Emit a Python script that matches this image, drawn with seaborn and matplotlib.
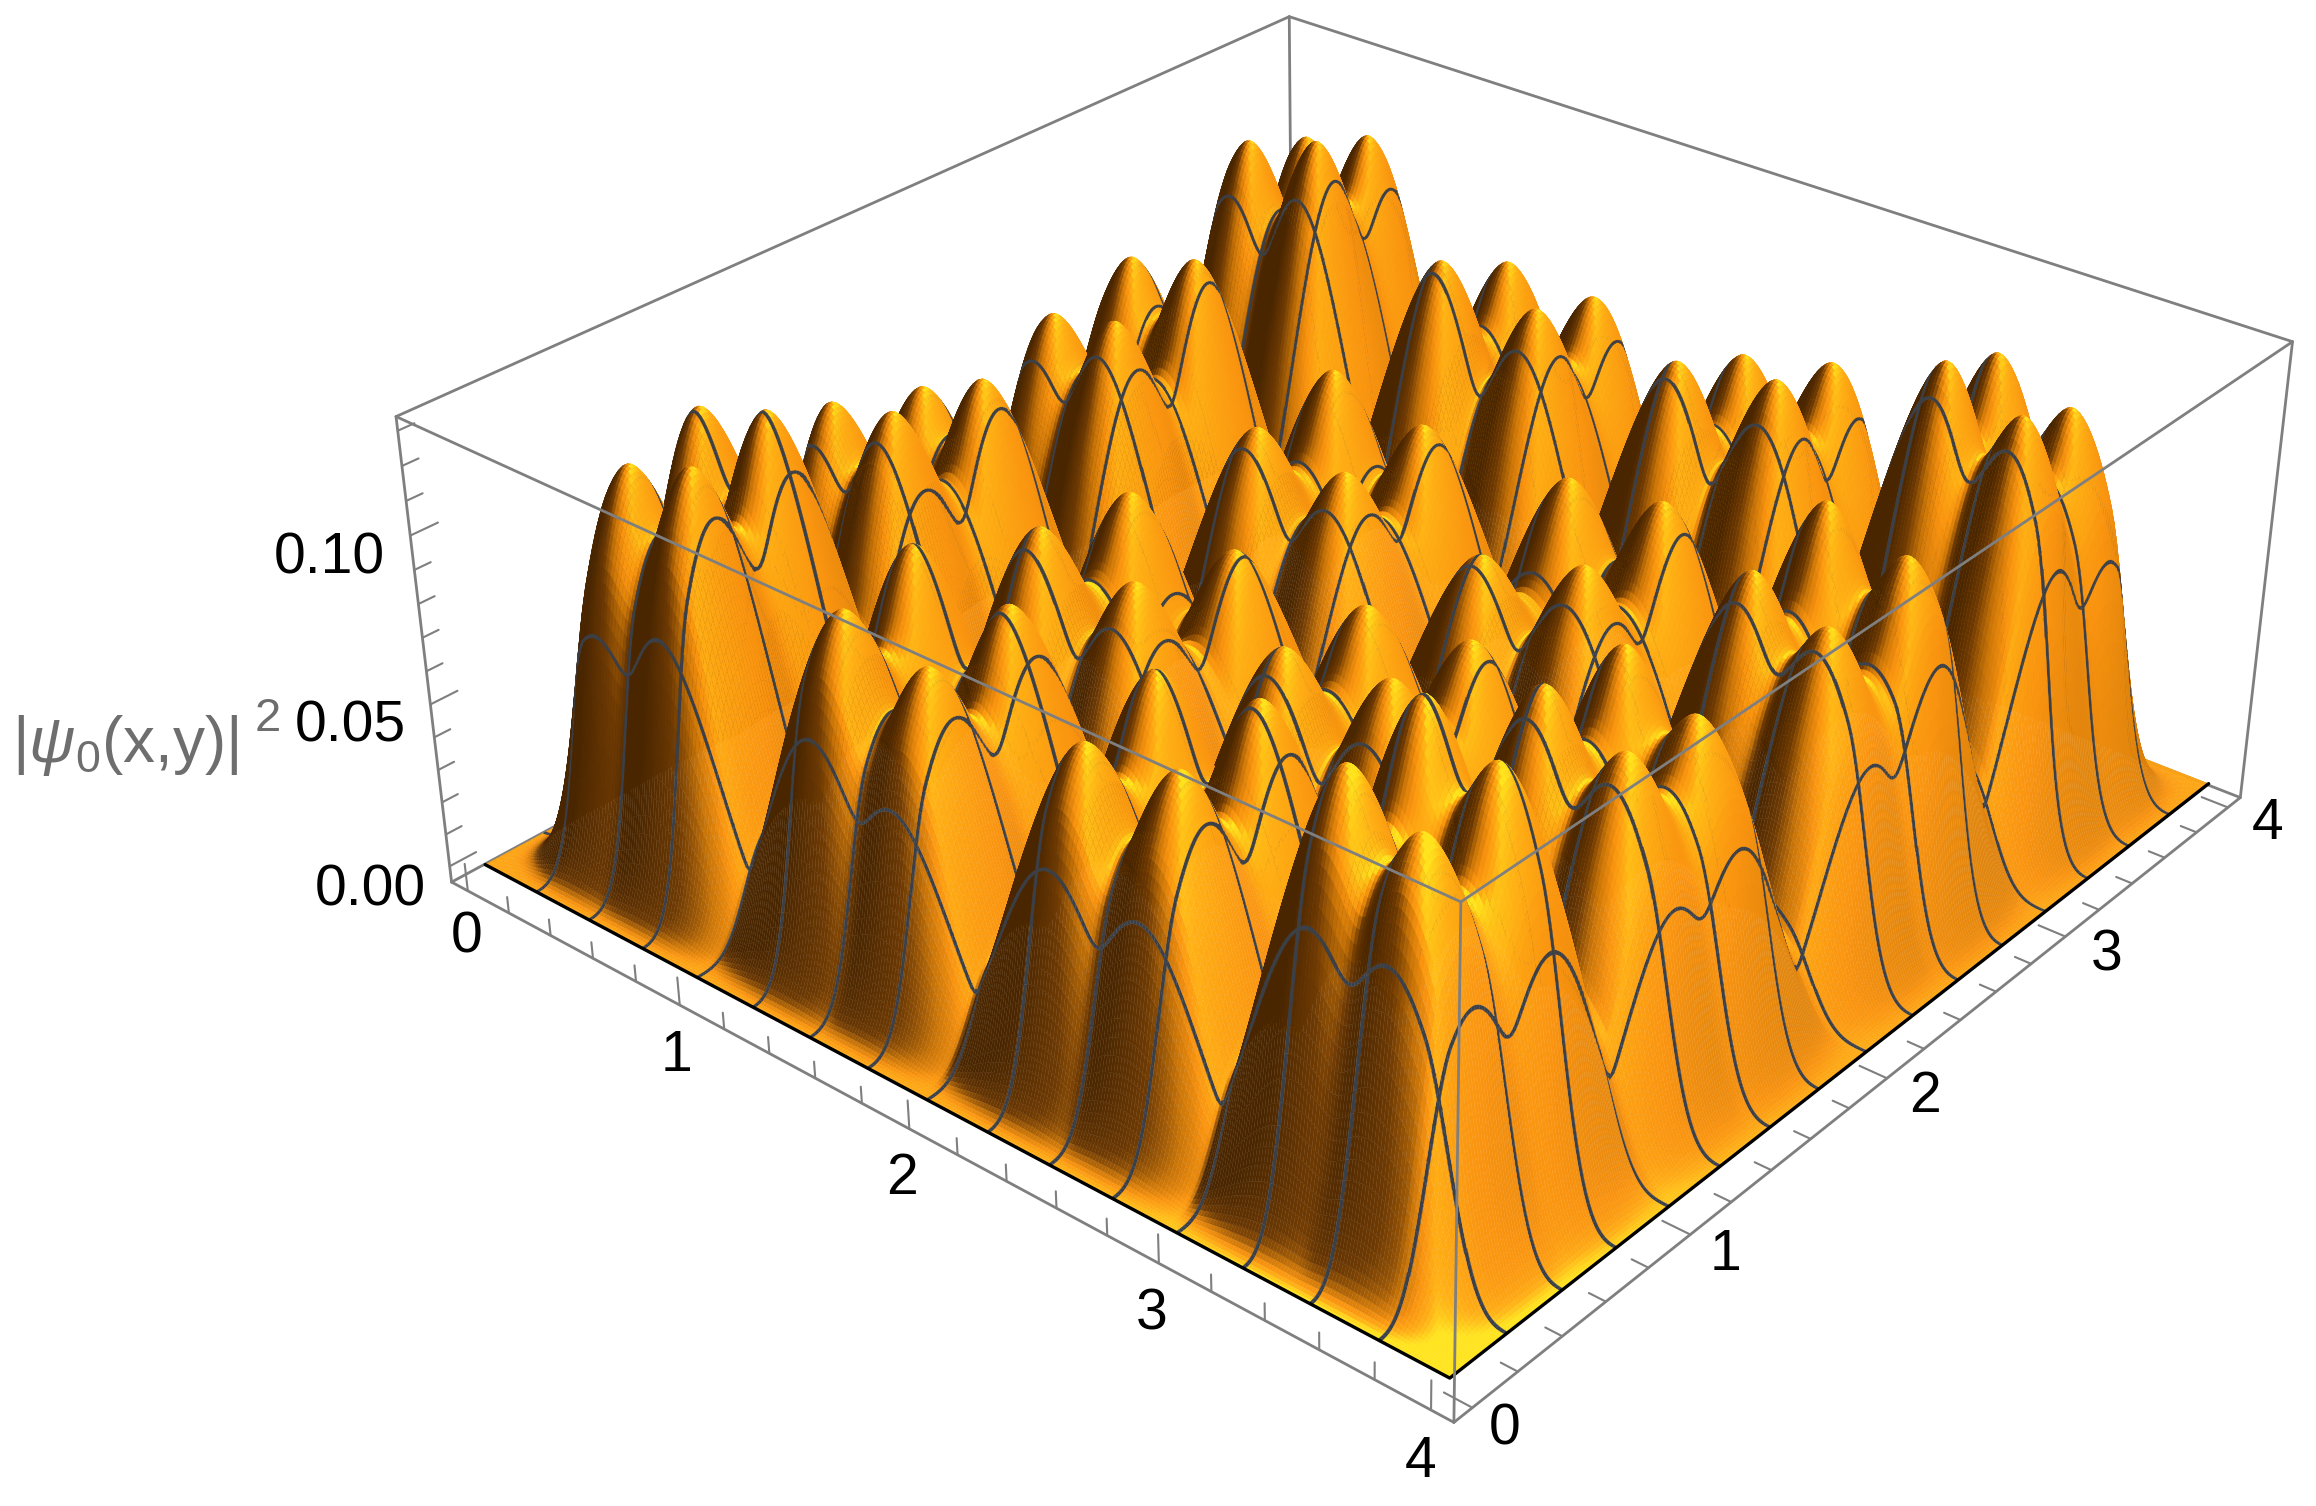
import numpy as np
import matplotlib
matplotlib.use('Agg')
import matplotlib.pyplot as plt
import seaborn as sns

# peak centres and heights, one row per x position
peak_x = [
    [0.36, 0.33, 0.32, 0.38, 0.35, 0.39, 0.36, 0.35],
    [0.66, 0.65, 0.62, 0.68, 0.65, 0.69, 0.67, 0.65],
    [1.32, 1.29, 1.27, 1.33, 1.30, 1.33, 1.28, 1.30],
    [1.65, 1.65, 1.63, 1.72, 1.65, 1.69, 1.65, 1.65],
    [2.30, 2.28, 2.27, 2.31, 2.26, 2.32, 2.27, 2.30],
    [2.65, 2.65, 2.65, 2.69, 2.63, 2.67, 2.64, 2.64],
    [3.29, 3.28, 3.26, 3.30, 3.28, 3.31, 3.29, 3.28],
    [3.57, 3.56, 3.56, 3.58, 3.57, 3.61, 3.58, 3.57],
]
peak_y = [
    [0.44, 0.77, 1.34, 1.69, 2.35, 2.70, 3.35, 3.67],
    [0.43, 0.76, 1.32, 1.67, 2.33, 2.69, 3.35, 3.65],
    [0.41, 0.74, 1.31, 1.66, 2.31, 2.66, 3.29, 3.63],
    [0.43, 0.78, 1.35, 1.72, 2.34, 2.69, 3.34, 3.66],
    [0.41, 0.74, 1.32, 1.66, 2.29, 2.66, 3.30, 3.64],
    [0.43, 0.78, 1.37, 1.70, 2.34, 2.69, 3.34, 3.66],
    [0.41, 0.75, 1.32, 1.65, 2.32, 2.66, 3.32, 3.64],
    [0.39, 0.73, 1.32, 1.63, 2.31, 2.66, 3.32, 3.63],
]
peak_heights = [
    [0.1155, 0.1205, 0.1030, 0.0980, 0.0990, 0.1070, 0.1240, 0.1160],
    [0.1235, 0.1285, 0.1090, 0.1090, 0.1050, 0.1140, 0.1310, 0.1240],
    [0.1030, 0.1090, 0.0935, 0.0935, 0.0905, 0.0975, 0.1105, 0.1005],
    [0.0960, 0.1010, 0.0865, 0.0855, 0.0855, 0.0895, 0.1035, 0.0975],
    [0.0965, 0.1035, 0.0880, 0.0890, 0.0800, 0.0920, 0.1050, 0.0970],
    [0.0995, 0.1055, 0.0890, 0.0890, 0.0860, 0.0940, 0.1080, 0.1030],
    [0.1230, 0.1280, 0.1085, 0.1085, 0.1045, 0.1135, 0.1315, 0.1235],
    [0.1150, 0.1200, 0.0995, 0.0985, 0.0975, 0.1065, 0.1235, 0.1155],
]
peak_radius = 0.55

mesh_lines = [0.25 * i for i in range(1, 16)]
xy_ticks = [0.2 * i for i in range(21)]
xy_labels = ['0', '1', '2', '3', '4']
z_ticks = [0.01 * i for i in range(14)]
z_labels = ['0.00', '0.05', '0.10']

sns.set_theme(style='white')
plt.rcParams['font.family'] = ['Liberation Sans', 'DejaVu Sans']
plt.rcParams['mathtext.fontset'] = 'custom'
plt.rcParams['mathtext.rm'] = 'Liberation Sans'
plt.rcParams['mathtext.it'] = 'Liberation Sans:italic'

W, H = 2316, 1506
fig = plt.figure(figsize=(W / 100, H / 100), dpi=100)
ax = fig.add_axes([356 / W, -113 / H, 1954 / W, 1954 / H], projection='3d', computed_zorder=False)
ax.patch.set_alpha(0)
ax.set_axis_off()

x0, x1 = -0.08, 4.08
z0, z1 = -0.005, 0.134
ax.set_xlim(x0, x1)
ax.set_ylim(x0, x1)
ax.set_zlim(z0, z1)
ax.set_box_aspect((1, 1, 0.406), zoom=0.955)
ax.set_proj_type('persp', focal_length=0.427)
elev, azim = 29.8, -50
ax.view_init(elev=elev, azim=azim)


def height(X, Y):
    total = np.zeros_like(X)
    for i in range(8):
        for j in range(8):
            r = np.sqrt((X - peak_x[i][j]) ** 2 + (Y - peak_y[i][j]) ** 2)
            u = np.clip(r / peak_radius, 0, 1) ** 0.88
            bump = np.cos(np.pi / 2 * u) ** 2
            total += (peak_heights[i][j] * bump) ** 8
    total = total ** (1 / 8)
    for d in (X, 4 - X, Y, 4 - Y):
        total = total * np.sin(np.pi / 2 * np.clip(d / 0.3, 0, 1)) ** 2
    return total


def slopes(X, Y):
    e = 0.002
    return ((height(X + e, Y) - height(X - e, Y)) / (2 * e),
            (height(X, Y + e) - height(X, Y - e)) / (2 * e))


az, el = np.radians(azim), np.radians(elev)
r_vec = np.array([-np.sin(az), np.cos(az)])
u_vec = np.array([-np.cos(az) * np.sin(el), -np.sin(az) * np.sin(el), np.cos(el)])
scale_xy = 314.0
scale_z = 3815.0


def strip_half_width(Zu, Zv, ru, uu, rv, uv):
    # half width in data units that gives a constant line width on screen
    du = (scale_xy * ru, scale_xy * uu + scale_z * u_vec[2] * Zu)
    tv = (scale_xy * rv, scale_xy * uv + scale_z * u_vec[2] * Zv)
    perp = np.abs(du[0] * tv[1] - du[1] * tv[0]) / np.hypot(tv[0], tv[1])
    return np.clip(1.6 / np.maximum(perp, 1e-3), 0.0012, 0.007)


# grid, with a narrow strip around each mesh line
half = 0.004
base = np.linspace(0, 4, 351)
base = base[[np.min(np.abs(b - np.array(mesh_lines))) > 0.008 for b in base]]
grid = np.sort(np.concatenate([base] + [[m - half, m + half] for m in mesh_lines]))
X, Y = np.meshgrid(grid, grid, indexing='ij')
for m in mesh_lines:
    lo = np.argmin(np.abs(grid - (m - half)))
    hi = np.argmin(np.abs(grid - (m + half)))
    mm = np.full_like(grid, m)
    zx, zy = slopes(mm, grid)
    d = strip_half_width(zx, zy, r_vec[0], u_vec[0], r_vec[1], u_vec[1])
    X[lo, :] = m - d
    X[hi, :] = m + d
    zx, zy = slopes(grid, mm)
    d = strip_half_width(zy, zx, r_vec[1], u_vec[1], r_vec[0], u_vec[0])
    Y[:, lo] = m - d
    Y[:, hi] = m + d
Z = height(X, Y)

# shading from the surface normal
zx, zy = slopes(X, Y)
zx_box, zy_box = zx * 2.08 * 5.84, zy * 2.08 * 5.84
norm = np.sqrt(zx_box ** 2 + zy_box ** 2 + 1)
right = (-zx_box * r_vec[0] - zy_box * r_vec[1]) / norm
shade = np.where(right < 0, 0.74 + 1.0 * right, 0.74 - 0.24 * right)
shade += 0.36 * np.clip(Z / 0.07, 0, 1) * (1 / norm) ** 0.8
shade += 0.3 * np.exp(-((X - 4) ** 2 + Y ** 2) / 1.2) / norm
shade += 0.12 * (X - Y + 4) / 8 / norm - 0.08
cmap = sns.blend_palette(['#4a2600', '#6e3a03', '#c87408', '#fa9410', '#ffb015', '#ffe41e'], as_cmap=True)
colors = cmap(np.clip(shade, 0, 1))

mask = np.isclose(grid[:, None], np.array(mesh_lines) - half).any(axis=1)
line_rgba = matplotlib.colors.to_rgba('#3b4048')
colors[mask, :, :] = line_rgba
colors[:, mask, :] = line_rgba

frame = '#7f7f7f'


def edge(a, b, zorder):
    ax.plot([a[0], b[0]], [a[1], b[1]], [a[2], b[2]], color=frame, lw=2.0, zorder=zorder)


# box edges behind the surface
edge((x0, x1, z0), (x0, x1, z1), 1)
edge((x0, x1, z1), (x0, x0, z1), 1)
edge((x0, x1, z1), (x1, x1, z1), 1)
edge((x0, x0, z0), (x0, x1, z0), 1)
edge((x0, x1, z0), (x1, x1, z0), 1)
edge((x0, x0, z0), (x0, x0, z1), 1)
edge((x1, x1, z0), (x1, x1, z1), 1)

ax.plot_surface(X, Y, Z, facecolors=colors, rstride=1, cstride=1, shade=False,
                antialiased=True, linewidth=0.25, zorder=2)

# dark rim of the surface
ax.plot([0, 4, 4], [0, 0, 4], [0, 0, 0], color='black', lw=2.4, zorder=3)

# box edges in front of the surface
edge((x0, x0, z0), (x1, x0, z0), 4)
edge((x1, x0, z0), (x1, x1, z0), 4)
edge((x1, x0, z0), (x1, x0, z1), 4)
edge((x0, x0, z1), (x1, x0, z1), 4)
edge((x1, x0, z1), (x1, x1, z1), 4)

for i, t in enumerate(xy_ticks):
    major = i % 5 == 0
    ax.plot([t, t], [x0, x0], [z0, z0 + (0.0085 if major else 0.005)], color=frame, lw=1.5, zorder=4)
    ax.plot([x1, x1 - (0.1 if major else 0.06)], [t, t], [z0, z0], color=frame, lw=1.5, zorder=4)
for i, t in enumerate(z_ticks):
    ax.plot([x0, x0], [x0, x0 + (0.11 if i % 5 == 0 else 0.065)], [t, t], color=frame, lw=1.5, zorder=4)


def px_text(u, v, s, **kw):
    fig.text(u * 1.477 / W, 1 - v * 1.477 / H, s, ha=kw.pop('ha', 'center'), va='center', **kw)


x_label_pos = [(316, 635), (458, 715), (611, 798), (780, 890), (962, 990)]
y_label_pos = [(1019, 968), (1168, 850), (1303, 743), (1426, 647), (1535, 558)]
z_label_pos = [(251, 603), (237, 492), (223, 378)]
for s, (u, v) in zip(xy_labels, x_label_pos):
    px_text(u, v, s, fontsize=41, color='black')
for s, (u, v) in zip(xy_labels, y_label_pos):
    px_text(u, v, s, fontsize=41, color='black')
for s, (u, v) in zip(z_labels, z_label_pos):
    px_text(u, v, s, fontsize=41, color='black')

label_gray = '#6e6e6e'
px_text(8, 505, r'$|\psi_0$(x,y)$|$', fontsize=46, color=label_gray, ha='left')
px_text(181, 487, '2', fontsize=34, color=label_gray)

fig.savefig('out.png', dpi=100)
